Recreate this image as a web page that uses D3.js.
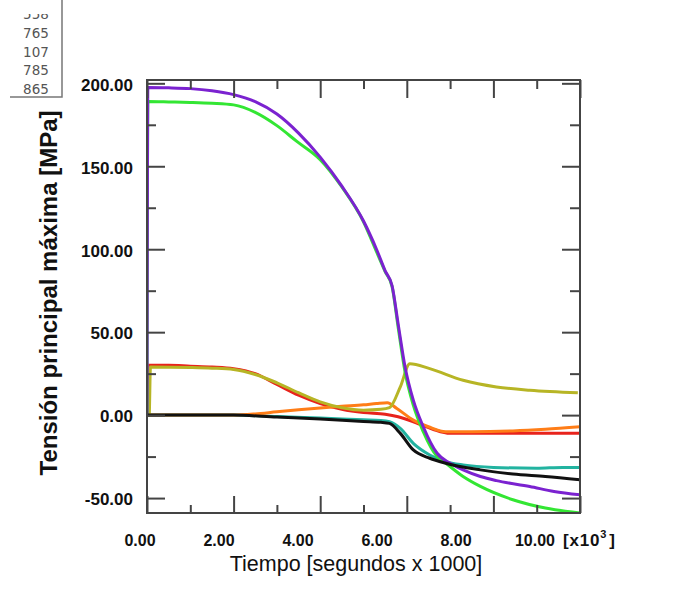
<!DOCTYPE html>
<html>
<head>
<meta charset="utf-8">
<script src="https://cdn.jsdelivr.net/npm/d3@7"></script>
<style>
  body { margin: 0; background: #fff; }
  svg { display: block; }
</style>
</head>
<body>
<svg id="chart" width="673" height="599"></svg>
<script>
// time in thousands of seconds
const tiempo_morado = [0, 0.02, 0.5, 1, 1.5, 2, 2.5, 3, 3.5, 4, 4.5, 5, 5.3, 5.5, 5.66, 5.8, 5.96, 6.15, 6.38, 6.7, 7.0, 7.3, 7.7, 8.07, 8.84, 9.4, 10];
const morado = [0, 197.5, 197.3, 196.8, 195.5, 193.2, 189, 181.5, 170, 155.5, 138, 117, 100, 87, 78, 55, 29, 9, -7, -23, -29, -33, -37, -39.5, -43, -46, -48];

const tiempo_verde = [0, 0.02, 0.5, 1, 1.5, 2, 2.5, 3, 3.46, 4, 4.5, 5, 5.3, 5.5, 5.66, 5.8, 5.96, 6.15, 6.38, 6.7, 6.9, 7.3, 7.7, 8.45, 9.2, 10];
const verde = [0, 189, 188.8, 188.5, 188, 187, 182.5, 174.5, 165, 154, 137.5, 116.5, 98.5, 86.5, 77.5, 53, 26, 6, -10, -25, -29, -37, -43, -51, -56, -59];

const tiempo_rojo = [0, 0.02, 0.5, 1, 1.5, 2, 2.5, 3, 3.5, 4, 4.5, 5, 5.5, 5.8, 6.2, 6.6, 7, 8, 9, 10];
const rojo = [0, 30, 30, 29.5, 29, 28, 25, 18.5, 12, 7, 3.5, 1.5, 0.5, -1, -4.5, -8.5, -11, -11, -11, -11];

const tiempo_naranja = [0, 1, 2, 2.5, 3, 3.5, 4, 4.5, 5, 5.3, 5.55, 5.77, 6.15, 6.5, 6.9, 7.5, 8.45, 9.2, 10];
const naranja = [0, 0, 0, 0.7, 2, 3.2, 4.3, 5.3, 6.2, 7, 7.5, 4, -3, -7, -10, -10, -9.5, -8.5, -7];

const tiempo_amarillo = [0, 0.05, 0.08, 1, 1.5, 2, 2.5, 3, 3.5, 4, 4.5, 5, 5.4, 5.6, 5.85, 6.07, 6.53, 7.3, 8.07, 8.84, 9.95];
const amarillo = [0, 0, 29, 28.7, 28.3, 27.5, 24.5, 19.5, 13.5, 8, 4.5, 3, 3.5, 4.5, 17, 31, 28, 21, 17, 15, 13.5];

const tiempo_turquesa = [0, 2, 3, 4, 5, 5.4, 5.6, 5.85, 6.15, 6.53, 6.9, 7.3, 8, 9, 9.6, 10];
const turquesa = [0, 0, -0.8, -1.8, -2.8, -3.2, -4, -8, -17, -24, -28, -30, -31.5, -32, -31.5, -31.5];

const tiempo_negro = [0, 2, 3, 4, 5, 5.4, 5.6, 5.85, 6.15, 6.53, 6.9, 7.7, 8.45, 9.2, 10];
const negro = [0, 0, -1.2, -2.3, -3.8, -4.3, -5, -11, -21, -26, -29, -33, -35.5, -37, -39];

const series = [
  { nombre: "turquesa", color: "#22b3a0", t: tiempo_turquesa, v: turquesa },
  { nombre: "rojo", color: "#e8231c", t: tiempo_rojo, v: rojo },
  { nombre: "naranja", color: "#ff7d17", t: tiempo_naranja, v: naranja },
  { nombre: "amarillo", color: "#b7b525", t: tiempo_amarillo, v: amarillo },
  { nombre: "verde", color: "#33e633", t: tiempo_verde, v: verde },
  { nombre: "morado", color: "#7b22d0", t: tiempo_morado, v: morado },
  { nombre: "negro", color: "#111111", t: tiempo_negro, v: negro }
];

const xTicks = [0, 2, 4, 6, 8, 10];
const xMinor = [1, 3, 5, 7, 9];
const yTicks = [-50, 0, 50, 100, 150, 200];
const yMinor = [-25, 25, 75, 125, 175];
const leyenda = ["558", "765", "107", "785", "865"];

const svg = d3.select("#chart");
const plotLeft = 147, plotRight = 580, plotTop = 80, plotBottom = 513;

const x = d3.scaleLinear().domain([0, 10]).range([plotLeft, plotRight]);
const y = d3.scaleLinear().domain([-59, 202]).range([plotBottom, plotTop]);
// tick labels in the original sit a bit off the tick marks
const labelX = d3.scaleLinear().domain([0, 10]).range([140, 535]);

svg.append("rect").attr("width", 673).attr("height", 599).attr("fill", "#fff");

// curves (clipped to the frame)
svg.append("clipPath").attr("id", "clip")
  .append("rect").attr("x", plotLeft).attr("y", plotTop - 2)
  .attr("width", plotRight - plotLeft).attr("height", plotBottom - plotTop + 2);

const line = d3.line()
  .x(d => x(d[0]))
  .y(d => y(d[1]))
  .curve(d3.curveMonotoneX);

const curves = svg.append("g").attr("clip-path", "url(#clip)");
series.forEach(s => {
  curves.append("path")
    .datum(s.t.map((t, i) => [t, s.v[i]]))
    .attr("fill", "none")
    .attr("stroke", s.color)
    .attr("stroke-width", 3)
    .attr("stroke-linejoin", "round")
    .attr("d", line);
});

// axes with inward ticks
function ejes(axisFn, pos, scale, values, size) {
  const g = svg.append("g")
    .attr("transform", pos)
    .call(axisFn(scale).tickValues(values).tickSize(size).tickFormat(""));
  g.select(".domain").remove();
  g.selectAll("line").attr("stroke", "#444").attr("stroke-width", 2);
  return g;
}
ejes(d3.axisTop, `translate(0,${plotTop})`, x, xTicks, -18);
ejes(d3.axisTop, `translate(0,${plotTop})`, x, xMinor, -9);
ejes(d3.axisBottom, `translate(0,${plotBottom})`, x, xTicks, -17);
ejes(d3.axisBottom, `translate(0,${plotBottom})`, x, xMinor, -8);
ejes(d3.axisRight, `translate(${plotRight},0)`, y, yTicks, -18);
ejes(d3.axisRight, `translate(${plotRight},0)`, y, yMinor, -10);
ejes(d3.axisLeft, `translate(${plotLeft},0)`, y, yMinor, -9);

const yAxis = svg.append("g")
  .attr("transform", `translate(${plotLeft},0)`)
  .call(d3.axisLeft(y).tickValues(yTicks).tickSize(-18).tickPadding(14)
    .tickFormat(d => d.toFixed(2)));
yAxis.select(".domain").remove();
yAxis.selectAll("line").attr("stroke", "#444").attr("stroke-width", 2);
yAxis.selectAll("text")
  .attr("dy", "0.4em")
  .attr("fill", "#111")
  .style("font", "bold 17px 'Liberation Sans', Arial, sans-serif");

// frame
svg.append("rect")
  .attr("x", plotLeft).attr("y", plotTop)
  .attr("width", plotRight - plotLeft).attr("height", plotBottom - plotTop)
  .attr("fill", "none").attr("stroke", "#444").attr("stroke-width", 2);

// x tick labels
svg.append("g").selectAll("text")
  .data(xTicks)
  .join("text")
  .attr("x", d => labelX(d))
  .attr("y", 546)
  .attr("text-anchor", "middle")
  .attr("fill", "#111")
  .style("font", "bold 16px 'Liberation Sans', Arial, sans-serif")
  .text(d => d.toFixed(2));

const exp = svg.append("text")
  .attr("x", 563).attr("y", 546)
  .attr("fill", "#111")
  .style("font", "bold 17px 'Liberation Sans', Arial, sans-serif")
  .style("letter-spacing", "0.8px");
exp.append("tspan").text("[x10");
exp.append("tspan").attr("dy", -8).style("font-size", "11px").text("3");
exp.append("tspan").attr("dy", 8).attr("dx", 2).text("]");

// axis titles
svg.append("text")
  .attr("x", 356).attr("y", 571)
  .attr("text-anchor", "middle")
  .attr("fill", "#111")
  .style("font", "21.5px 'Liberation Sans', Arial, sans-serif")
  .text("Tiempo [segundos x 1000]");

svg.append("text")
  .attr("transform", "translate(57,293) rotate(-90)")
  .attr("text-anchor", "middle")
  .attr("fill", "#111")
  .style("font", "bold 24px 'Liberation Sans', Arial, sans-serif")
  .text("Tensión principal máxima [MPa]");

// clipped id box at top left
svg.append("clipPath").attr("id", "clipLeyenda")
  .append("rect").attr("x", 0).attr("y", 14).attr("width", 62).attr("height", 84);
const ley = svg.append("g").attr("clip-path", "url(#clipLeyenda)");
ley.selectAll("text")
  .data(leyenda)
  .join("text")
  .attr("x", 36)
  .attr("y", (d, i) => 19 + i * 18.8)
  .attr("text-anchor", "middle")
  .attr("fill", "#555")
  .style("font", "13.5px 'DejaVu Sans', sans-serif")
  .text(d => d);
svg.append("path")
  .attr("d", "M62,0V97H10")
  .attr("fill", "none")
  .attr("stroke", "#777")
  .attr("stroke-width", 1.5);
</script>
</body>
</html>
